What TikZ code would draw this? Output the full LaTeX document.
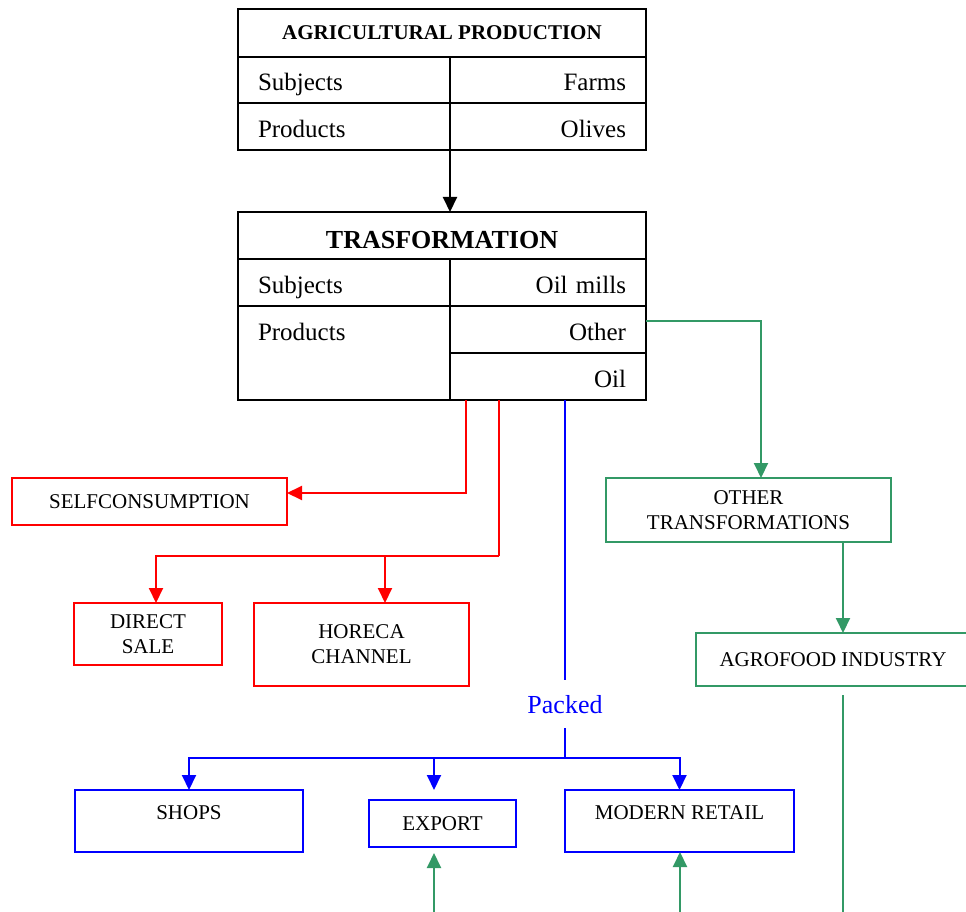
\documentclass[tikz,border=0pt]{standalone}
\usepackage{xcolor}
\usepackage{fontspec}
\setmainfont{Liberation Serif}
\usepackage{tikz}
\usetikzlibrary{arrows.meta}

\definecolor{seagreen}{RGB}{51,153,102}

\begin{document}
\begin{tikzpicture}[x=1pt, y=-1pt,
  >={Triangle[length=15pt,width=14pt]},
  tcell/.style={rectangle, draw=black, line width=2pt, inner ysep=0pt, outer sep=0pt},
  lcell/.style={tcell, minimum width=212pt, minimum height=46.5pt, inner xsep=20pt, text width=172pt, align=left, text height=21pt, text depth=0pt, font=\fontsize{25}{28}\selectfont},
  rcell/.style={lcell, minimum width=196pt, text width=156pt, align=right},
  cbox/.style={rectangle, line width=2pt, outer sep=0pt, font=\fontsize{21}{25}\selectfont, align=center},
  redbox/.style={cbox, draw=red},
  bluebox/.style={cbox, draw=blue},
  greenbox/.style={cbox, draw=seagreen},
  rline/.style={draw=red, line width=2pt},
  bline/.style={draw=blue, line width=2pt},
  gline/.style={draw=seagreen, line width=2pt}]
\clip (0,0) rectangle (966,912);

% agricultural production table
\node (agtitle) [tcell, minimum width=408pt, minimum height=48pt, font=\bfseries\fontsize{21}{24}\selectfont] at (442,33) {AGRICULTURAL PRODUCTION};
\node (agsubjL) [lcell, anchor=north west] at (agtitle.south west) {Subjects};
\node (agsubjR) [rcell, anchor=north west] at (agsubjL.north east) {Farms};
\node (agprodL) [lcell, anchor=north west] at (agsubjL.south west) {Products};
\node (agprodR) [rcell, anchor=north west] at (agprodL.north east) {Olives};

% transformation table
\node (trtitle) [tcell, minimum width=408pt, minimum height=47pt, text height=26pt, text depth=0pt, font=\bfseries\fontsize{26}{30}\selectfont] at (442,235.5) {TRASFORMATION};
\node (trsubjL) [lcell, minimum height=47pt, anchor=north west] at (trtitle.south west) {Subjects};
\node (trsubjR) [rcell, minimum height=47pt, anchor=north west] at (trsubjL.north east) {Oil mills};
\node (trprodL) [lcell, minimum height=94pt, text depth=47pt, anchor=north west] at (trsubjL.south west) {Products};
\node (otherc) [rcell, minimum height=47pt, anchor=north west] at (trprodL.north east) {Other};
\node (oilc) [rcell, minimum height=47pt, anchor=north west] at (otherc.south west) {Oil};

\draw[->, line width=2pt] (agprodL.south east) -- (agprodL.south east |- trtitle.north);

% red branch
\node (self) [redbox, minimum width=275pt, minimum height=47pt] at (149.5,501.5) {SELFCONSUMPTION};
\node (direct) [redbox, minimum width=148pt, minimum height=62pt] at (148,634) {DIRECT\\SALE};
\node (horeca) [redbox, minimum width=215pt, minimum height=83pt] at (361.5,644.5) {HORECA\\CHANNEL};
\coordinate (redbus) at (499,556);

\draw[rline, ->] ([xshift=-82pt]oilc.south) |- ([yshift=8.5pt]self.east);
\draw[rline] ([xshift=-49pt]oilc.south) -- (redbus);
\draw[rline, ->] (redbus) -| ([xshift=8pt]direct.north);
\draw[rline, ->] (redbus) -| ([xshift=23.5pt]horeca.north);

% green branch
\node (othertr) [greenbox, minimum width=285pt, minimum height=64pt] at (748.5,510) {OTHER\\TRANSFORMATIONS};
\node (agro) [greenbox, minimum width=274pt, minimum height=53pt] at (833,659.5) {AGROFOOD INDUSTRY};
\coordinate (agrofoot) at (843,920);
\coordinate (expfoot) at (434,920);
\coordinate (modfoot) at (680,920);

\draw[gline, ->] ([yshift=8.5pt]otherc.east) -| ([xshift=12.5pt]othertr.north);
\draw[gline, ->] ([xshift=94.5pt]othertr.south) -- ([xshift=10pt]agro.north);
\draw[gline] ([xshift=10pt,yshift=-9pt]agro.south) -- (agrofoot);

% blue branch
\node (packed) [text=blue, font=\fontsize{26}{30}\selectfont, text height=18pt, text depth=0pt, inner ysep=15pt, outer sep=0pt] at (565,704) {Packed};
\node (shops) [bluebox, minimum width=228pt, minimum height=62pt, text depth=16pt] at (189,821) {SHOPS};
\node (export) [bluebox, minimum width=147pt, minimum height=47pt] at (442.5,823.5) {EXPORT};
\node (modern) [bluebox, minimum width=229pt, minimum height=62pt, text depth=16pt] at (679.5,821) {MODERN RETAIL};
\coordinate (bus) at (565,758);

\draw[bline] ([xshift=17pt]oilc.south) -- (packed.north);
\draw[bline] (packed.south) -- (bus);
\draw[bline, ->] (bus) -| (shops.north);
\draw[bline, ->] (bus) -| ([xshift=-8.5pt,yshift=10pt]export.north);
\draw[bline, ->] (bus) -| (modern.north);

\draw[gline, ->] (expfoot) -- ([xshift=-8.5pt,yshift=-6pt]export.south);
\draw[gline, ->] (modfoot) -- ([xshift=0.5pt]modern.south);

\end{tikzpicture}
\end{document}
